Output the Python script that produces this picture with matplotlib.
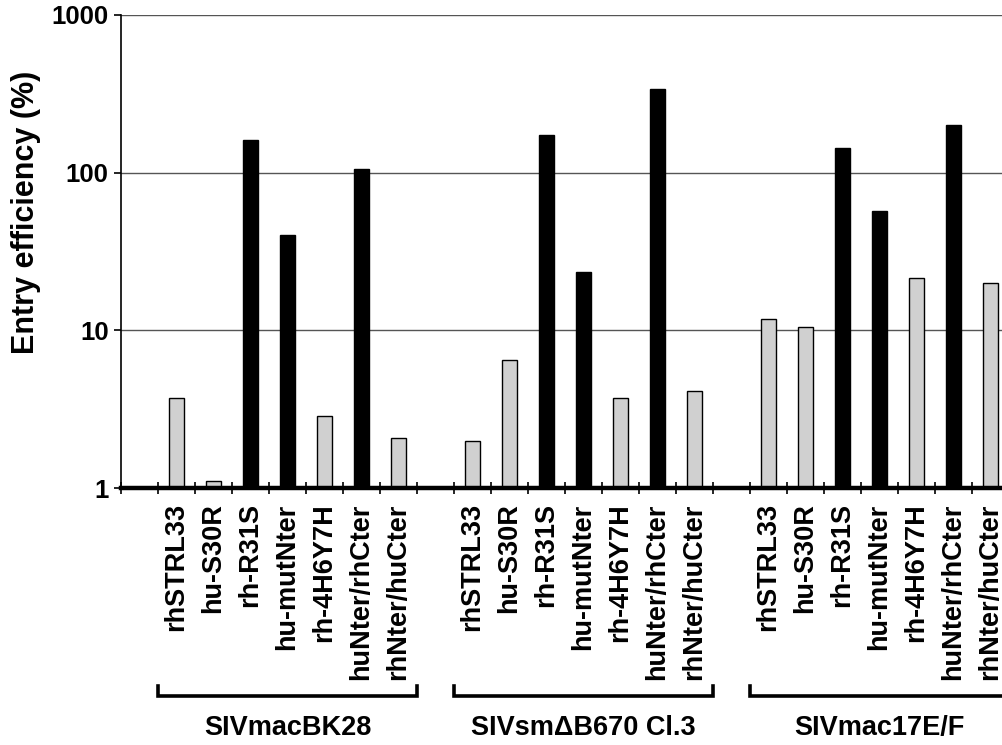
#! /usr/bin/env python3
"""
Entry efficiency of three SIV strains on rhesus / human receptor chimeras.
Log-scale bar chart, grey = low entry, black = high entry.
"""
import matplotlib
matplotlib.use('Agg')
import matplotlib.pyplot as plt
from matplotlib.transforms import blended_transform_factory
from matplotlib.ticker import FixedLocator, NullLocator

plt.rcParams['font.family'] = ['Liberation Sans', 'DejaVu Sans']
plt.rcParams['font.weight'] = 'bold'

# receptors tested for each virus (same order in every group)
receptors = ['rhSTRL33', 'hu-S30R', 'rh-R31S', 'hu-mutNter',
             'rh-4H6Y7H', 'huNter/rhCter', 'rhNter/huCter']
# which receptors are drawn as black bars
dark_bar = [False, False, True, True, False, True, False]

viruses = ['SIVmacBK28', 'SIVsm\u0394B670 Cl.3', 'SIVmac17E/F']

# entry efficiency (%)
bk28_vals = [3.7, 1.1, 161, 40, 2.85, 105, 2.08]
smb670_vals = [2.0, 6.5, 173, 23.5, 3.7, 340, 4.1]
mac17_vals = [11.8, 10.5, 143, 57, 21.5, 201, 19.9]
group_vals = [bk28_vals, smb670_vals, mac17_vals]

y_ticks = [1, 10, 100, 1000]

GREY = '#d0d0d0'
BAR_W = 0.4

fig = plt.figure(figsize=(10.02, 7.45), dpi=100)
# axes runs a little past the right edge, like the cropped original
ax = fig.add_axes([121 / 1002, 1 - 488 / 745, 888 / 1002, 473 / 745])

# one empty slot in front of every group of seven
xs, heights, colors, labels = [], [], [], []
for g, vals in enumerate(group_vals):
    for i, v in enumerate(vals):
        xs.append(1 + 8 * g + i)
        heights.append(v)
        colors.append('black' if dark_bar[i] else GREY)
        labels.append(receptors[i])

ax.set_yscale('log')
ax.bar(xs, heights, width=BAR_W, color=colors, edgecolor='black',
       linewidth=1.0, zorder=3)
ax.set_ylim(1, 1000)
ax.set_xlim(-0.5, 8 * len(group_vals) - 0.5)

# y axis
ax.yaxis.set_major_locator(FixedLocator(y_ticks))
ax.yaxis.set_minor_locator(NullLocator())
ax.set_yticklabels([str(t) for t in y_ticks], fontsize=18.5, fontweight='bold')
ax.tick_params(axis='y', which='major', direction='out', length=5,
               width=1.2, pad=4)
ax.set_ylabel('Entry efficiency (%)', fontsize=22, fontweight='bold')
ax.yaxis.set_label_coords(-80 / 888, 0.583)
ax.grid(axis='y', color='#555555', linewidth=1.0, zorder=0)

# x axis: labels at bar centres, tick marks between slots
ax.set_xticks(xs)
ax.set_xticklabels(labels, rotation=90, fontsize=19.5, fontweight='bold',
                   va='top', ha='center')
ax.tick_params(axis='x', which='major', length=0, pad=11)
ax.set_xticks([x - 0.5 for x in range(8 * len(group_vals) + 1)], minor=True)
ax.tick_params(axis='x', which='minor', direction='inout', length=9,
               width=1.2)

for side in ['top', 'right']:
    ax.spines[side].set_visible(False)
ax.spines['bottom'].set_linewidth(3.2)
ax.spines['left'].set_linewidth(1.2)
ax.spines['bottom'].set_zorder(4)

# brackets and virus names under the receptor labels
trans = blended_transform_factory(ax.transData, fig.transFigure)
y_top = 1 - 686 / 745
y_bar = 1 - 696 / 745
for g, name in enumerate(viruses):
    x0 = 8 * g + 0.5
    x1 = 8 * g + 7.5
    ax.plot([x0, x0, x1, x1], [y_top, y_bar, y_bar, y_top], color='black',
            linewidth=2.6, transform=trans, clip_on=False,
            solid_joinstyle='miter')
    ax.text(8 * g + 4, 1 - 728 / 745, name, transform=trans, ha='center',
            va='center', fontsize=19.5, fontweight='bold')

fig.savefig('out.png', dpi=100)
